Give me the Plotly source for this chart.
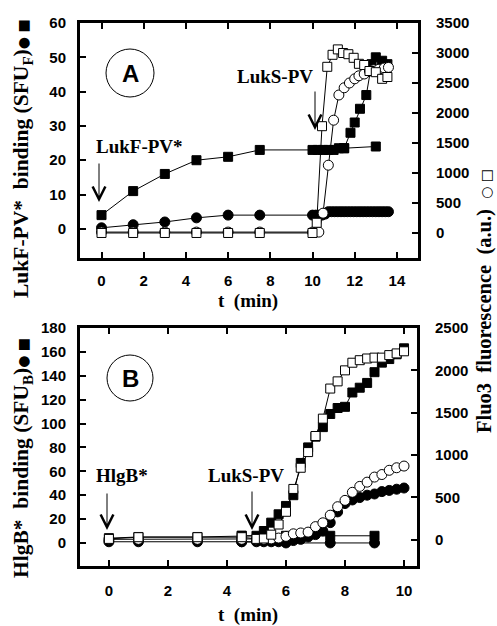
import plotly.graph_objects as go

# ---------------- Panel A data ----------------
A_fsq_t = [0, 1.5, 3, 4.5, 6, 7.5, 10, 10.25, 10.5, 10.75, 11.0, 11.25, 11.5, 11.8, 12.0, 12.25, 12.55, 12.8, 13.0, 13.3, 13.55]
A_fsq_v = [4, 11, 16, 20, 21, 23, 23, 23, 23, 23, 23, 23.5, 23.5, 28, 31, 35, 39, 48, 50, 49, 48]
A_ctrl_t = [11.5, 13.0]
A_ctrl_v = [23.5, 24]
A_fci_t = [0, 1.5, 3, 4.5, 6, 7.5, 10, 10.15, 10.3, 10.45, 10.6, 10.75, 10.9, 11.05, 11.2, 11.35, 11.5,
           11.65, 11.8, 11.95, 12.1, 12.25, 12.4, 12.55, 12.7, 12.85, 13.0, 13.15, 13.3, 13.45, 13.6]
A_fci_v = [0.3, 1.2, 2, 3.2, 4, 4, 4, 4, 4, 4, 4.3, 5, 5, 5, 5, 5, 5,
           5, 5, 5, 5, 5, 5, 5, 5, 5, 5, 5, 5, 5, 5]
A_oci_t = [0, 1.5, 3, 4.5, 6, 7.5, 10, 10.3, 10.5, 10.75, 11.0, 11.25, 11.5, 11.75, 12.0, 12.2, 12.45, 12.7, 12.9, 13.15, 13.4, 13.6]
A_oci_v = [15, 15, 15, 15, 15, 15, 15, 15, 330, 1130, 1880, 2300, 2420, 2500, 2570, 2620, 2650, 2700, 2720, 2730, 2750, 2760]
A_osq_t = [0, 1.5, 3, 4.5, 6, 7.5, 10, 10.2, 10.45, 10.7, 10.95, 11.2, 11.45, 11.7, 11.95, 12.2, 12.45, 12.7, 13.0, 13.3, 13.55]
A_osq_v = [0, 0, 0, 0, 0, 0, 0, 170, 1780, 2770, 2970, 3060, 3000, 2980, 2920, 2820, 2800, 2700, 2680, 2570, 2600]

# ---------------- Panel B data ----------------
B_t = [0, 1, 3, 4.5, 5.0, 5.25, 5.5, 5.75, 6.0, 6.25, 6.5, 6.75, 7.0, 7.25, 7.5, 7.75, 8.0, 8.25, 8.5, 8.75, 9.0, 9.25, 9.5, 9.75, 10.0]
B_fsq = [4, 5, 5, 6, 6, 10, 17, 24, 31, 40, 67, 80, 89, 97, 108, 113, 114, 126, 130, 134, 143, 151, 154, 158, 163]
B_fci = [1, 1, 1, 1, 1, 1, 1, 1, 1, 2, 3, 5, 7, 10, 17, 26, 33, 36, 38, 40, 41, 43, 44, 45, 46]
B_oci = [5, 5, 5, 5, 5, 5, 10, 20, 40, 70, 80, 90, 155, 200, 290, 390, 465, 560, 630, 680, 740, 770, 820, 850, 870]
B_osq = [10, 30, 30, 30, 10, 15, 60, 180, 330, 600, 850, 1035, 1225, 1430, 1785, 1870, 2000, 2090, 2120, 2140, 2150, 2150, 2180, 2200, 2225]
B_ctrl_t = [4.5, 6.0, 7.5, 9.0]
B_ctrl_fsq = [6, 6, 6, 6]
B_ctrl_fci = [1, 0, 0, 0]

A_xticks = [0, 2, 4, 6, 8, 10, 12, 14]
A_yticks = [0, 10, 20, 30, 40, 50, 60]
A_y2ticks = [0, 500, 1000, 1500, 2000, 2500, 3000, 3500]
B_xticks = [0, 2, 4, 6, 8, 10]
B_yticks = [0, 20, 40, 60, 80, 100, 120, 140, 160, 180]
B_y2ticks = [0, 500, 1000, 1500, 2000, 2500]

W, H = 497, 626
def px(x):
    return x / W
def py(y):
    return 1 - y / H

SERIF = "Liberation Serif, Times New Roman, serif"
SANS = "Liberation Sans, Arial, sans-serif"

fig = go.Figure()

def add(x, y, symbol, filled, size, xa, ya):
    fig.add_trace(go.Scatter(
        x=x, y=y, mode="lines+markers", xaxis=xa, yaxis=ya,
        line=dict(color="black", width=1),
        marker=dict(symbol=symbol, size=size,
                    color="black" if filled else "white",
                    line=dict(color="black", width=1)),
        showlegend=False, hoverinfo="skip"))

# Panel A
add(A_fci_t, A_fci_v, "circle", True, 10, "x", "y")
add(A_ctrl_t, A_ctrl_v, "square", True, 9, "x", "y")
add(A_fsq_t, A_fsq_v, "square", True, 9, "x", "y")
add(A_oci_t, A_oci_v, "circle", False, 10, "x", "y2")
add(A_osq_t, A_osq_v, "square", False, 9, "x", "y2")

# Panel B
add(B_ctrl_t, B_ctrl_fci, "circle", True, 10, "x2", "y3")
add(B_ctrl_t, B_ctrl_fsq, "square", True, 9, "x2", "y3")
add(B_t, B_fci, "circle", True, 10, "x2", "y3")
add(B_t, B_fsq, "square", True, 9, "x2", "y3")
add(B_t, B_oci, "circle", False, 10, "x2", "y4")
add(B_t, B_osq, "square", False, 9, "x2", "y4")

tickfont = dict(family=SANS, size=15, color="black", weight="bold")
common = dict(showline=True, linewidth=3, linecolor="black", ticks="inside",
              ticklen=6, tickwidth=2, tickcolor="black", showgrid=False,
              zeroline=False, tickfont=tickfont)

domA_x = [px(80), px(418)]
domA_y = [py(258), py(23)]
domB_x = [px(80), px(417)]
domB_y = [py(566), py(328)]

fig.update_layout(
    width=W, height=H, margin=dict(l=0, r=0, t=0, b=0, autoexpand=False),
    paper_bgcolor="white", plot_bgcolor="white",
    xaxis=dict(domain=domA_x, anchor="y", range=[-1.02, 15.0], tickvals=A_xticks,
               mirror="ticks", ticklabelstandoff=7, **common),
    yaxis=dict(domain=domA_y, anchor="x", range=[-8.5, 60], tickvals=A_yticks,
               ticklabelstandoff=8, **common),
    yaxis2=dict(overlaying="y", anchor="x", side="right", range=[-417, 3500],
                tickvals=A_y2ticks, ticklabelstandoff=12, **common),
    xaxis2=dict(domain=domB_x, anchor="y3", range=[-0.98, 10.44], tickvals=B_xticks,
                mirror="ticks", ticklabelstandoff=9, **common),
    yaxis3=dict(domain=domB_y, anchor="x2", range=[-19.3, 180],
                tickvals=B_yticks, ticklabelstandoff=8, **common),
    yaxis4=dict(overlaying="y3", anchor="x2", side="right", range=[-310, 2500],
                tickvals=B_y2ticks, ticklabelstandoff=12, **common),
)

# panel letter circles
for (cx, cy, r, letter) in [(130, 73, 24, "A"), (130, 378, 23, "B")]:
    fig.add_shape(type="circle", xref="paper", yref="paper",
                  x0=px(cx - r), x1=px(cx + r), y0=py(cy + r), y1=py(cy - r),
                  line=dict(color="black", width=1))
    fig.add_annotation(x=px(cx), y=py(cy), xref="paper", yref="paper", text=letter,
                       xanchor="center", yanchor="middle",
                       showarrow=False, font=dict(family=SANS, size=24, color="black", weight="bold"))

labfont = dict(family=SERIF, size=19, color="black", weight="bold")
texts = [("LukF-PV*", 139, 146), ("LukS-PV", 275, 77), ("HlgB*", 122, 475), ("LukS-PV", 246, 475),
         ("t  (min)", 248, 301), ("t  (min)", 248, 615)]
for (t, x, y) in texts:
    fig.add_annotation(x=px(x), y=py(y), xref="paper", yref="paper", text=t, showarrow=False,
                       xanchor="center", yanchor="middle", font=labfont)

# arrows (x, head y, tail y)
arrows = [(99, 202, 162), (315, 130, 90), (107, 530, 492), (252, 530, 490)]
for (x, yh, yt) in arrows:
    fig.add_annotation(x=px(x), y=py(yh), xref="paper", yref="paper", ax=0, ay=-(yh - yt),
                       text="", showarrow=True, arrowhead=5, arrowsize=2.5, arrowwidth=1,
                       arrowcolor="black")

sym = "<span style='font-family:DejaVu Sans;font-size:14px;font-weight:normal'>"
titles = [
    ("LukF-PV*  binding (SFU<sub>F</sub>)" + sym + "● ■</span>", 22, 159, 21.5),
    ("HlgB*  binding (SFU<sub>B</sub>)" + sym + "● ■</span>", 22, 458, 21.5),
    ("Fluo3  fluorescence  (a.u.)  " + sym + "○ □</span>", 484, 301, 20.5),
]
for (t, x, y, s) in titles:
    fig.add_annotation(x=px(x), y=py(y), xref="paper", yref="paper", text=t, showarrow=False,
                       xanchor="center", yanchor="middle", textangle=-90,
                       font=dict(family=SERIF, size=s, color="black", weight="bold"))

fig.write_html("out.html", config={"displayModeBar": False},
               post_script="document.body.style.margin='0';")
